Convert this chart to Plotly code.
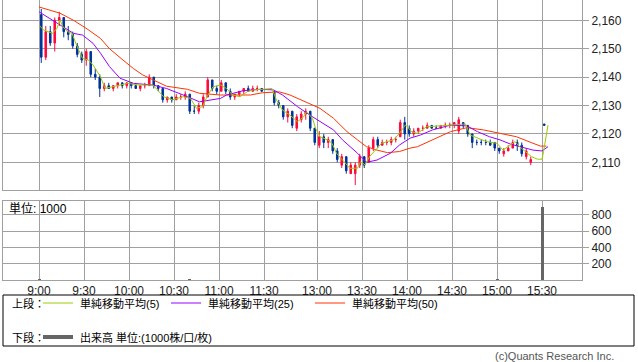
import plotly.graph_objects as go

# ---------------- data ----------------
candle_time = [
    "9:00", "9:03", "9:06", "9:09", "9:12", "9:15", "9:18", "9:21", "9:24", "9:27",
    "9:30", "9:33", "9:36", "9:39", "9:42", "9:45", "9:48", "9:51", "9:54", "9:57",
    "10:00", "10:03", "10:06", "10:09", "10:12", "10:15", "10:18", "10:21", "10:24", "10:27",
    "10:30", "10:33", "10:36", "10:39", "10:42", "10:45", "10:48", "10:51", "10:54", "10:57",
    "11:00", "11:03", "11:06", "11:09", "11:12", "11:15", "11:18", "11:21", "11:24", "11:27",
    "12:30", "12:33", "12:36", "12:39", "12:42", "12:45", "12:48", "12:51", "12:54", "12:57",
    "13:00", "13:03", "13:06", "13:09", "13:12", "13:15", "13:18", "13:21", "13:24", "13:27",
    "13:30", "13:33", "13:36", "13:39", "13:42", "13:45", "13:48", "13:51", "13:54", "13:57",
    "14:00", "14:03", "14:06", "14:09", "14:12", "14:15", "14:18", "14:21", "14:24", "14:27",
    "14:30", "14:33", "14:36", "14:39", "14:42", "14:45", "14:48", "14:51", "14:54", "14:57",
    "15:00", "15:03", "15:06", "15:09", "15:12", "15:15", "15:18", "15:21", "15:30",
]
candle_open = [
    2162, 2147, 2156, 2152, 2160, 2161, 2156, 2155, 2151, 2148,
    2146, 2149, 2141, 2140, 2136, 2137, 2136, 2137, 2138, 2137,
    2138, 2137, 2136, 2137, 2137, 2140, 2137, 2136, 2132, 2133,
    2132, 2133, 2133, 2134, 2128, 2128, 2130, 2133, 2139, 2136,
    2135, 2138, 2135, 2133, 2134, 2135, 2136, 2135, 2136, 2136,
    2135, 2131, 2130, 2126, 2128, 2122, 2125, 2127, 2128, 2122,
    2116, 2119, 2117, 2118, 2114, 2109, 2112, 2106, 2106, 2109,
    2112, 2110, 2115, 2118, 2116, 2117, 2117, 2118, 2119, 2124,
    2122, 2120, 2121, 2122, 2122, 2123, 2122, 2122, 2123, 2123,
    2123, 2121, 2124, 2123, 2120, 2117, 2117, 2117, 2117, 2117,
    2115, 2113, 2114, 2115, 2117, 2116, 2112, 2110, 2123.5,
]
candle_high = [
    2164, 2158, 2158, 2161, 2163, 2161, 2158, 2156, 2152, 2149,
    2150, 2149, 2143, 2141, 2138, 2138, 2137, 2138, 2138, 2138,
    2138, 2138, 2137, 2138, 2141, 2140, 2137, 2136, 2133, 2133,
    2134, 2134, 2135, 2134, 2130, 2131, 2134, 2140, 2139, 2137,
    2139, 2138, 2136, 2134, 2135, 2136, 2137, 2137, 2137, 2136,
    2135, 2132, 2130, 2129, 2128, 2127, 2128, 2129, 2128, 2122,
    2121, 2120, 2119, 2118, 2115, 2113, 2112, 2110, 2110, 2113,
    2112, 2116, 2119, 2119, 2118, 2118, 2119, 2119, 2125, 2126,
    2123, 2122, 2122, 2123, 2124, 2123, 2123, 2123, 2124, 2124,
    2124, 2126, 2124, 2123, 2120, 2118, 2118, 2118, 2118, 2117,
    2115, 2115, 2116, 2118, 2118, 2117, 2115, 2112, 2123.5,
]
candle_low = [
    2145, 2146, 2151, 2149, 2158, 2154, 2153, 2150, 2147, 2145,
    2144, 2140, 2139, 2133, 2135, 2136, 2135, 2136, 2136, 2136,
    2136, 2136, 2135, 2136, 2137, 2136, 2135, 2131, 2131, 2131,
    2132, 2132, 2132, 2127, 2127, 2127, 2129, 2133, 2135, 2134,
    2135, 2134, 2132, 2132, 2133, 2134, 2135, 2135, 2135, 2135,
    2130, 2129, 2125, 2124, 2122, 2121, 2124, 2125, 2121, 2116,
    2115, 2115, 2115, 2113, 2110, 2108, 2106, 2106, 2102, 2108,
    2108, 2110, 2114, 2115, 2116, 2116, 2116, 2117, 2119, 2118,
    2119, 2119, 2120, 2121, 2122, 2122, 2122, 2122, 2122, 2122,
    2122, 2120, 2122, 2119, 2115, 2116, 2116, 2116, 2116, 2114,
    2113, 2112, 2114, 2115, 2114, 2112, 2111, 2109, 2123,
]
candle_close = [
    2147, 2156, 2152, 2160, 2161, 2156, 2155, 2151, 2148, 2146,
    2149, 2141, 2140, 2136, 2137, 2136, 2137, 2138, 2137, 2138,
    2137, 2136, 2137, 2137, 2140, 2137, 2136, 2132, 2133, 2132,
    2133, 2133, 2134, 2128, 2128, 2130, 2133, 2139, 2136, 2135,
    2138, 2135, 2133, 2134, 2135, 2136, 2135, 2136, 2136, 2135,
    2131, 2130, 2126, 2128, 2123, 2126, 2127, 2128, 2122, 2117,
    2119, 2117, 2118, 2114, 2111, 2112, 2107, 2109, 2109, 2112,
    2109, 2115, 2118, 2116, 2117, 2117, 2118, 2118, 2124, 2120,
    2120, 2121, 2122, 2122, 2123, 2122, 2122, 2123, 2123, 2123,
    2124, 2125, 2123, 2120, 2117, 2117, 2117, 2117, 2116, 2115,
    2114, 2114, 2115, 2117, 2116, 2113, 2114, 2111, 2123,
]

ma5_time = [
    "9:00", "9:03", "9:06", "9:09", "9:12", "9:14", "9:16", "9:19", "9:22", "9:25",
    "9:29", "9:33", "9:36", "9:41", "9:44", "9:49", "9:59", "10:07", "10:16", "10:23",
    "10:29", "10:36", "10:41", "10:45", "10:49", "10:52", "10:56", "11:01", "11:05", "11:09",
    "11:14", "11:19", "11:23", "11:29", "12:30", "12:33", "12:37", "12:42", "12:47", "12:51",
    "12:53", "12:57", "12:59", "13:02", "13:07", "13:10", "13:13", "13:17", "13:22", "13:27",
    "13:29", "13:32", "13:35", "13:40", "13:43", "13:47", "13:51", "13:55", "13:59", "14:03",
    "14:07", "14:13", "14:20", "14:27", "14:33", "14:39", "14:42", "14:47", "14:53", "15:00",
    "15:04", "15:09", "15:12", "15:15", "15:19", "15:23", "15:27", "15:30", "15:31", "15:33",
    "15:34",
]
ma5_value = [
    2158.3, 2156.6, 2156.0, 2155.4, 2157.2, 2160.1, 2157.7, 2156.0, 2155.4, 2151.3,
    2146.6, 2146.0, 2144.3, 2140.1, 2136.0, 2136.6, 2137.8, 2137.2, 2137.2, 2133.1,
    2132.0, 2133.1, 2132.5, 2129.0, 2129.6, 2133.1, 2136.6, 2137.2, 2136.0, 2133.7,
    2133.1, 2134.9, 2135.5, 2135.7, 2136.0, 2131.9, 2128.4, 2126.6, 2124.3, 2126.0,
    2127.8, 2125.5, 2122.0, 2119.0, 2117.9, 2116.7, 2113.2, 2110.8, 2107.9, 2107.9,
    2110.2, 2109.1, 2112.0, 2114.9, 2116.7, 2117.3, 2117.9, 2120.2, 2123.2, 2120.8,
    2120.2, 2122.5, 2122.8, 2123.1, 2123.5, 2123.5, 2119.6, 2118.5, 2117.3, 2116.7,
    2114.3, 2116.1, 2117.3, 2115.5, 2113.7, 2112.0, 2111.1, 2111.1, 2113.7, 2120.2,
    2123.1,
]

ma25_time = [
    "9:00", "9:07", "9:16", "9:23", "9:29", "9:36", "9:41", "9:47", "9:54", "10:03",
    "10:16", "10:25", "10:39", "10:47", "10:54", "11:01", "11:05", "11:16", "11:27", "12:31",
    "12:37", "12:47", "12:55", "13:04", "13:11", "13:17", "13:27", "13:33", "13:40", "13:49",
    "13:55", "14:02", "14:09", "14:17", "14:29", "14:40", "14:47", "14:55", "15:02", "15:09",
    "15:15", "15:24", "15:30", "15:34",
]
ma25_value = [
    2163.0, 2160.7, 2157.7, 2155.4, 2154.8, 2151.9, 2148.4, 2143.7, 2139.6, 2137.8,
    2137.2, 2136.0, 2133.1, 2131.3, 2131.9, 2132.5, 2133.7, 2135.2, 2135.7, 2135.5,
    2133.7, 2129.6, 2126.7, 2123.7, 2121.4, 2117.9, 2113.2, 2110.0, 2110.8, 2113.2,
    2116.1, 2118.5, 2119.6, 2121.4, 2123.1, 2122.8, 2120.8, 2119.0, 2117.9, 2116.4,
    2115.5, 2114.3, 2114.0, 2115.5,
]

ma50_time = [
    "9:00", "9:14", "9:23", "9:32", "9:41", "9:47", "9:56", "10:03", "10:09", "10:16",
    "10:25", "10:39", "10:47", "11:01", "11:09", "11:21", "11:29", "12:35", "12:42", "12:49",
    "12:55", "13:02", "13:11", "13:20", "13:27", "13:33", "13:40", "13:47", "13:55", "14:02",
    "14:07", "14:17", "14:29", "14:40", "14:51", "15:02", "15:13", "15:24", "15:29", "15:33",
]
ma50_value = [
    2164.7, 2162.5, 2160.0, 2157.0, 2153.6, 2150.0, 2146.0, 2143.0, 2140.8, 2139.0,
    2136.8, 2135.7, 2134.3, 2133.7, 2133.7, 2133.7, 2134.5, 2134.8, 2133.7, 2132.0,
    2130.7, 2129.0, 2125.5, 2120.8, 2117.9, 2115.5, 2114.3, 2113.4, 2113.8, 2115.0,
    2115.5, 2117.9, 2120.8, 2122.2, 2121.4, 2120.2, 2119.0, 2116.7, 2115.7, 2115.7,
]

volume_time = ["9:00", "10:40", "15:00", "15:30"]
volume_value = [10, 6, 5, 900]

tick_labels = ["9:00", "9:30", "10:00", "10:30", "11:00", "11:30",
               "13:00", "13:30", "14:00", "14:30", "15:00", "15:30"]
price_ticks = [2110, 2120, 2130, 2140, 2150, 2160]
volume_ticks = [200, 400, 600, 800]

# ---------------- helpers ----------------
LUNCH_GAP = 5.33


def pos(t):
    h, m = map(int, t.split(":"))
    mins = h * 60 + m
    if mins <= 11 * 60 + 30:
        return mins - 540
    return 150 + LUNCH_GAP + (mins - 750)


W, H = 638, 362
L, R, T, B = 3, 56, 0, 82
PW, PH = W - L - R, H - T - B


def px(x):
    return (x - L) / PW


def py(y):
    return 1 - (y - T) / PH


GRID = "#a0a0a0"
UP = "#ff0a3c"
DOWN = "#00339c"
C5, C25, C50 = "#99cc00", "#9900ff", "#ff3300"
FONT = "Liberation Sans, Noto Sans CJK JP, sans-serif"

fig = go.Figure()

fig.add_trace(go.Candlestick(
    x=[pos(t) + 1.5 for t in candle_time],
    open=candle_open, high=candle_high, low=candle_low, close=candle_close,
    increasing=dict(line=dict(color=UP, width=1), fillcolor=UP),
    decreasing=dict(line=dict(color=DOWN, width=1), fillcolor=DOWN),
    whiskerwidth=0, xaxis="x", yaxis="y", showlegend=False,
))
fig.add_trace(go.Scatter(x=[pos(t) for t in ma50_time], y=ma50_value, mode="lines",
                         line=dict(color=C50, width=1), xaxis="x", yaxis="y"))
fig.add_trace(go.Scatter(x=[pos(t) for t in ma25_time], y=ma25_value, mode="lines",
                         line=dict(color=C25, width=1), xaxis="x", yaxis="y"))
fig.add_trace(go.Scatter(x=[pos(t) for t in ma5_time], y=ma5_value, mode="lines",
                         line=dict(color=C5, width=1), xaxis="x", yaxis="y"))
fig.add_trace(go.Bar(x=[pos(t) for t in volume_time], y=volume_value, width=2,
                     marker=dict(color="#666666", line=dict(width=0)),
                     xaxis="x2", yaxis="y2"))

tickvals = [pos(t) for t in tick_labels]
xcommon = dict(range=[-24, 362], tickvals=tickvals, ticktext=tick_labels,
               showgrid=True, gridcolor=GRID, gridwidth=1, zeroline=False,
               showline=True, mirror=True, linecolor=GRID, linewidth=1,
               ticks="", fixedrange=True)
ycommon = dict(side="right", showgrid=True, gridcolor=GRID, gridwidth=1, zeroline=False,
               showline=True, mirror=True, linecolor=GRID, linewidth=1,
               ticks="outside", ticklen=6, tickcolor=GRID, fixedrange=True,
               tickfont=dict(size=12, color="#222", family=FONT))

fig.update_layout(
    width=W, height=H, margin=dict(l=L, r=R, t=T, b=B),
    paper_bgcolor="white", plot_bgcolor="white", showlegend=False,
    font=dict(family=FONT, size=12, color="#222"),
    xaxis=dict(domain=[0, 1], anchor="y", showticklabels=False,
               rangeslider=dict(visible=False), **xcommon),
    xaxis2=dict(domain=[0, 1], anchor="y2", matches="x", showticklabels=True,
                tickfont=dict(size=12, color="#222", family=FONT), **xcommon),
    yaxis=dict(domain=[py(190), 1], range=[2100.25, 2167.15], tickvals=price_ticks,
               tickformat=",d", **ycommon),
    yaxis2=dict(domain=[0, py(201)], range=[0, 971], tickvals=volume_ticks, **ycommon),
    bargap=0, boxgap=0.5,
)

shapes = []
annotations = []
# legend box
shapes.append(dict(type="rect", xref="paper", yref="paper", x0=px(3), x1=px(634),
                   y0=py(295), y1=py(346), line=dict(color="#000", width=1)))


def legend_line(x0, x1, y, color, width):
    shapes.append(dict(type="line", xref="paper", yref="paper", x0=px(x0), x1=px(x1),
                       y0=py(y), y1=py(y), line=dict(color=color, width=width)))


def text(x, y, s, size=11, color="#000", xanchor="left"):
    annotations.append(dict(xref="paper", yref="paper", x=px(x), y=py(y), text=s,
                            showarrow=False, xanchor=xanchor, yanchor="middle",
                            font=dict(size=size, color=color, family=FONT)))


text(10, 303, "上段：")
legend_line(43, 73, 303, C5, 1)
text(78, 303, "単純移動平均(5)")
legend_line(171, 201, 303, C25, 1)
text(206, 303, "単純移動平均(25)")
legend_line(315, 345, 303, C50, 1)
text(350, 303, "単純移動平均(50)")
text(10, 337, "下段：")
legend_line(43, 73, 337, "#666666", 4)
text(78, 337, "出来高 単位:(1000株/口/枚)")
text(7, 209, "単位: 1000", size=12)
text(616, 356, "(c)Quants Research Inc.", size=11, color="#555", xanchor="right")

fig.update_layout(shapes=shapes, annotations=annotations)
fig.write_html("out.html", config={"displayModeBar": False},
               post_script="document.body.style.margin='0';document.body.style.padding='0';")
